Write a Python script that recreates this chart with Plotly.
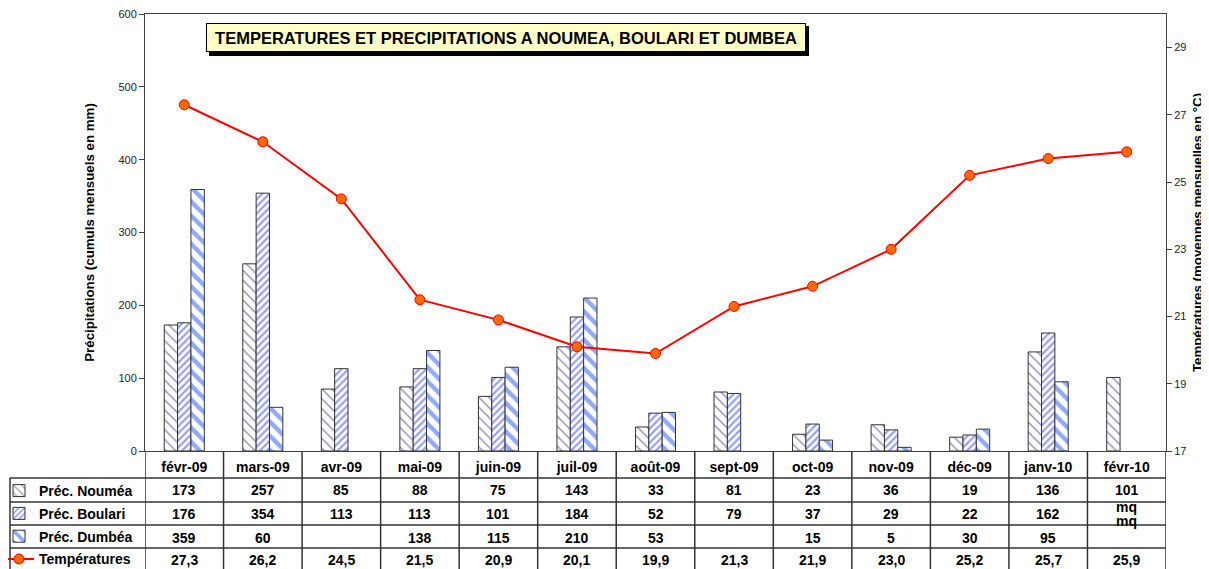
import plotly.graph_objects as go

months = ["févr-09", "mars-09", "avr-09", "mai-09", "juin-09", "juil-09", "août-09",
          "sept-09", "oct-09", "nov-09", "déc-09", "janv-10", "févr-10"]
prec_noumea = [173, 257, 85, 88, 75, 143, 33, 81, 23, 36, 19, 136, 101]
prec_boulari = [176, 354, 113, 113, 101, 184, 52, 79, 37, 29, 22, 162, None]
prec_dumbea = [359, 60, None, 138, 115, 210, 53, None, 15, 5, 30, 95, None]
temperatures = [27.3, 26.2, 24.5, 21.5, 20.9, 20.1, 19.9, 21.3, 21.9, 23.0, 25.2, 25.7, 25.9]
mq_months = ["févr-10"]  # months where a missing value is shown as "mq"

FONT = "Liberation Sans, Arial, sans-serif"
OFF = 8  # the page body has an 8px margin
SW, SH = 1209, 569  # screen size
W, H = SW - OFF, SH - OFF
# plot area in screen pixels
L, R, T, B = 145, 1166, 14, 451
PW, PH = R - L, B - T


def py(p):  # screen pixel y -> paper y
    return (B - p) / PH


def px(p):  # screen pixel x -> paper x
    return (p - L) / PW


fig = go.Figure()
fig.add_trace(go.Bar(
    x=months, y=prec_noumea, name="Préc. Nouméa", legendgroup="a",
    marker=dict(color="white", line=dict(color="#333", width=1),
                pattern=dict(shape="\\", fgcolor="#1a1a70", bgcolor="white", size=7, solidity=0.2)),
))
fig.add_trace(go.Bar(
    x=months, y=prec_boulari, name="Préc. Boulari", legendgroup="b",
    marker=dict(color="white", line=dict(color="#333", width=1),
                pattern=dict(shape="/", fgcolor="#2f3fee", bgcolor="white", size=5, solidity=0.45)),
))
fig.add_trace(go.Bar(
    x=months, y=prec_dumbea, name="Préc. Dumbéa", legendgroup="c",
    marker=dict(color="white", line=dict(color="#333", width=1),
                pattern=dict(shape="\\", fgcolor="#2255ee", bgcolor="white", size=10, solidity=0.45)),
))
fig.add_trace(go.Scatter(
    x=months, y=temperatures, name="Températures", yaxis="y2", legendgroup="d",
    mode="lines+markers", line=dict(color="#ff0000", width=2),
    marker=dict(symbol="circle", size=10, color="#ff6a00", line=dict(color="#ff0000", width=1)),
))

axis_line = "#404040"
fig.update_layout(
    width=W, height=H,
    margin=dict(l=L - OFF, r=W - (R - OFF), t=T - OFF, b=H - (B - OFF), autoexpand=False),
    paper_bgcolor="white", plot_bgcolor="white",
    font=dict(family=FONT, color="black"),
    barmode="group", bargap=0.49, bargroupgap=0,
    xaxis=dict(categoryorder="array", categoryarray=months, range=[-0.5, 12.5],
               showline=True, mirror=True, linecolor=axis_line, linewidth=1,
               ticks="", showgrid=False, ticklabelstandoff=3,
               tickfont=dict(family=FONT, size=14, weight="bold", color="black")),
    yaxis=dict(range=[0, 600], dtick=100, ticks="outside", ticklen=5, tickcolor=axis_line,
               showline=True, linecolor=axis_line, showgrid=False, zeroline=False,
               ticklabeloverflow="allow",
               tickfont=dict(family=FONT, size=11, color="#222"),
               title=dict(text="Précipitations (cumuls mensuels en mm)", standoff=20,
                          font=dict(family=FONT, size=13.3, weight="bold"))),
    yaxis2=dict(overlaying="y", side="right", range=[17, 30], tickvals=list(range(17, 30, 2)),
                ticks="outside", ticklen=5, tickcolor=axis_line, showline=True, linecolor=axis_line,
                showgrid=False, zeroline=False, ticklabeloverflow="allow",
                tickfont=dict(family=FONT, size=11, color="#222"),
                title=dict(text="Températures (moyennes mensuelles en °C)", standoff=7,
                           font=dict(family=FONT, size=13.3, weight="bold"))),
    legend=dict(x=px(-1), y=py(475), xanchor="left", yanchor="top", bgcolor="rgba(0,0,0,0)",
                borderwidth=0, tracegroupgap=1.6, traceorder="grouped",
                font=dict(family=FONT, size=14, weight="bold", color="black")),
    showlegend=True,
)

# Title box with shadow
fig.add_shape(type="rect", xref="paper", yref="paper", x0=px(209), x1=px(809), y0=py(56), y1=py(26),
              fillcolor="black", line=dict(width=0), layer="above")
fig.add_annotation(text="<b>TEMPERATURES ET PRECIPITATIONS A NOUMEA, BOULARI ET DUMBEA</b>",
                   xref="paper", yref="paper", x=px(505.5), y=py(37.5), xanchor="center", yanchor="middle",
                   showarrow=False, bgcolor="#ffffc8", bordercolor="black", borderwidth=1,
                   width=596, height=25, font=dict(family=FONT, size=16.5, color="black"))

# Data table grid
grid = "#333"
rows_y = [478, 502, 525, 548]
for yy in rows_y:
    fig.add_shape(type="line", xref="paper", yref="paper", x0=px(10), x1=1, y0=py(yy), y1=py(yy),
                  line=dict(color=grid, width=1.5))
fig.add_shape(type="line", xref="paper", yref="paper", x0=px(10), x1=px(10), y0=py(478), y1=py(575),
              line=dict(color=grid, width=1.5))
for i in range(len(months) + 1):
    fig.add_shape(type="line", xref="x", yref="paper", x0=i - 0.5, x1=i - 0.5, y0=0, y1=py(575),
                  line=dict(color=grid, width=1.5))

row_centers = [490, 514, 537.5, 560]
series = [prec_noumea, prec_boulari, prec_dumbea]
for r, vals in enumerate(series):
    for m, v in zip(months, vals):
        if v is None:
            if m in mq_months:
                txt = "mq"
                yc = 507 if r == 1 else 521
            else:
                continue
        else:
            txt = str(v)
            yc = row_centers[r]
        fig.add_annotation(text=txt, xref="x", yref="paper", x=m, y=py(yc), showarrow=False,
                           xanchor="center", yanchor="middle",
                           font=dict(family=FONT, size=14, weight="bold", color="black"))
for m, v in zip(months, temperatures):
    fig.add_annotation(text=f"{v:.1f}".replace(".", ","), xref="x", yref="paper", x=m, y=py(row_centers[3]),
                       showarrow=False, xanchor="center", yanchor="middle",
                       font=dict(family=FONT, size=14, weight="bold", color="black"))

fig.write_html("out.html")
